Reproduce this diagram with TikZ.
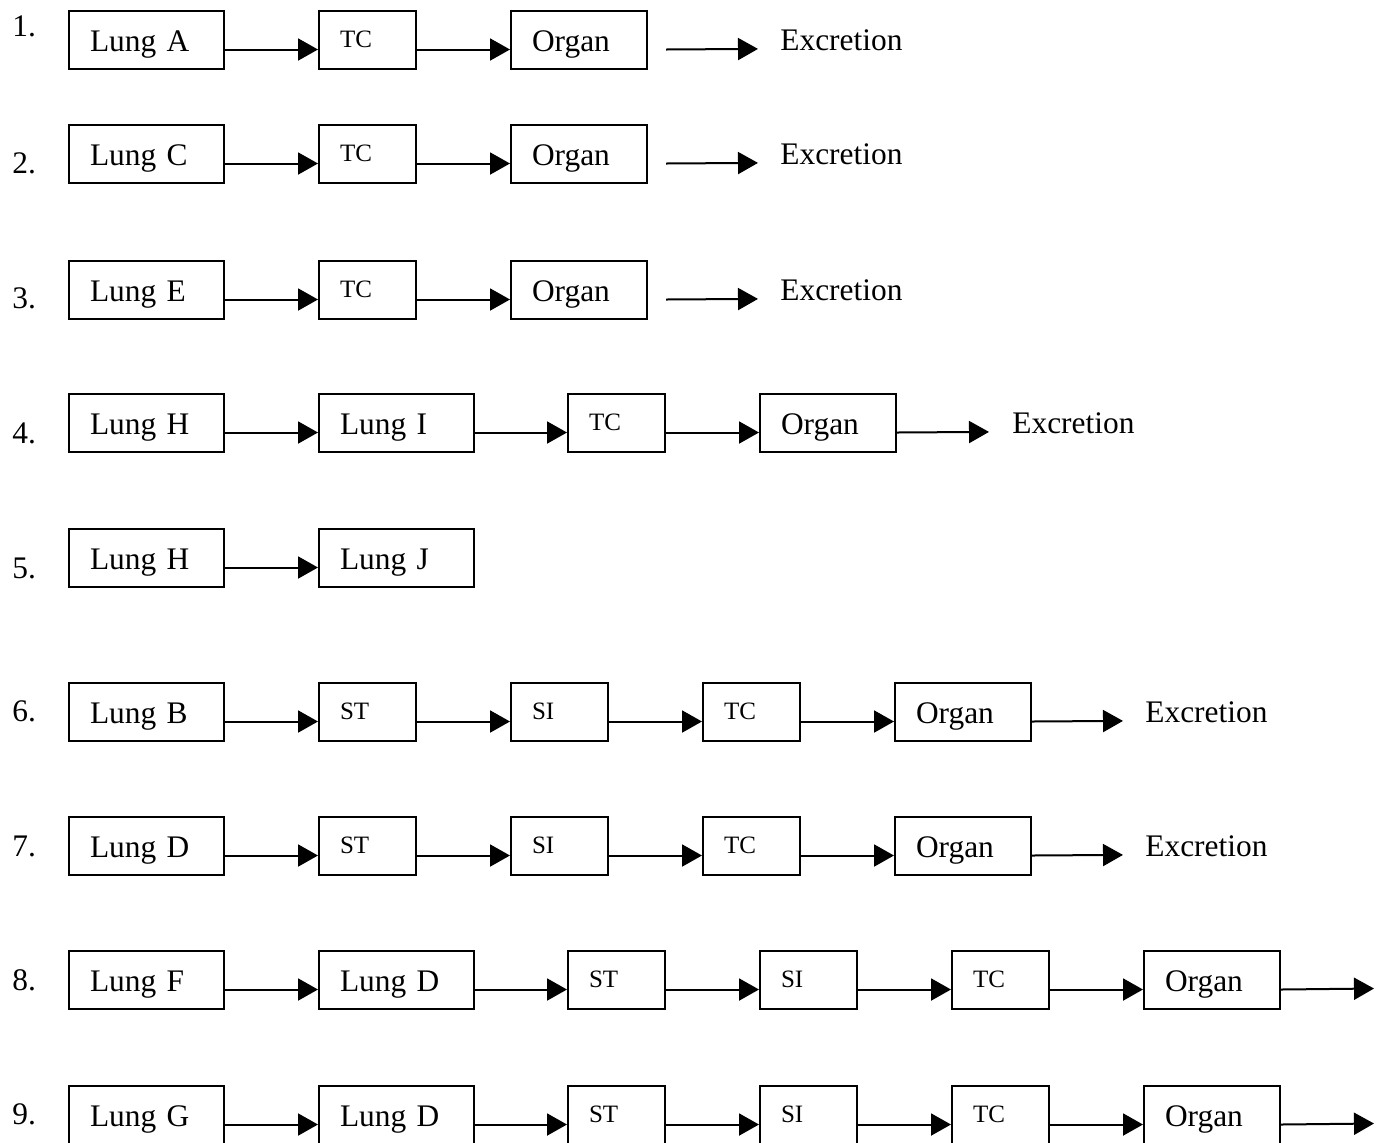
\documentclass[tikz,border=0pt]{standalone}
\usepackage{fontspec}
\setmainfont{Liberation Serif}
\usetikzlibrary{arrows.meta}
\tikzset{
  box/.style={draw,line width=1pt,anchor=north west,inner xsep=10.5pt,inner ysep=0pt,
    minimum height=29pt,align=left,text height=20pt,text depth=9pt,font=\fontsize{15.7}{18}\selectfont},
  lung/.style={box,text width=56.5pt},
  organ/.style={box,text width=47pt},
  small/.style={box,text width=27.5pt,text height=18pt,text depth=11pt,font=\fontsize{12.5}{15}\selectfont},
  endtxt/.style={anchor=north west,inner sep=0pt,text height=20pt,text depth=9pt,font=\fontsize{15.7}{18}\selectfont},
  num/.style={anchor=base west,inner sep=0pt,font=\fontsize{15.7}{18}\selectfont},
  arr/.style={->,line width=1pt}
}
\begin{document}
\begin{tikzpicture}[x=0.5pt,y=-0.5pt,>={Triangle[length=10pt,width=11pt]}]
\useasboundingbox (0,0) rectangle (1386,1142);
\node[num] at (12,36) {1.};
\node[lung] (lA) at (68,10) {Lung A};
\node[small] (tc1) at (318,10) {TC};
\node[organ] (og1) at (510,10) {Organ};
\node[endtxt] (ex1) at (780,10) {Excretion};
\node[num] at (12,173) {2.};
\node[lung] (lC) at (68,124) {Lung C};
\node[small] (tc2) at (318,124) {TC};
\node[organ] (og2) at (510,124) {Organ};
\node[endtxt] (ex2) at (780,124) {Excretion};
\node[num] at (12,308) {3.};
\node[lung] (lE) at (68,260) {Lung E};
\node[small] (tc3) at (318,260) {TC};
\node[organ] (og3) at (510,260) {Organ};
\node[endtxt] (ex3) at (780,260) {Excretion};
\foreach \a/\b in {lA/tc1,tc1/og1,lC/tc2,tc2/og2,lE/tc3,tc3/og3}
  \draw[arr] ([yshift=-4.75pt]\a.east) -- ([yshift=-4.75pt]\b.west);
\foreach \a/\b in {og1/ex1,og2/ex2,og3/ex3}
  \draw[arr] ([xshift=9pt,yshift=-4.75pt]\a.east) -- ([xshift=-11pt,yshift=-4.75pt]\b.west);

\node[num] at (12,443) {4.};
\node[lung] (lH4) at (68,393) {Lung H};
\node[lung] (lI) at (318,393) {Lung I};
\node[small] (tc4) at (567,393) {TC};
\node[organ] (og4) at (759,393) {Organ};
\node[endtxt] (ex4) at (1012,393) {Excretion};
\node[num] at (12,578) {5.};
\node[lung] (lH5) at (68,528) {Lung H};
\node[lung] (lJ) at (318,528) {Lung J};
\foreach \a/\b in {lH4/lI,lI/tc4,tc4/og4,lH5/lJ}
  \draw[arr] ([yshift=-4.75pt]\a.east) -- ([yshift=-4.75pt]\b.west);
\draw[arr] ([yshift=-4.75pt]og4.east) -- ([xshift=-11.5pt,yshift=-4.75pt]ex4.west);

\node[num] at (12,721) {6.};
\node[lung] (lB) at (68,682) {Lung B};
\node[small] (st6) at (318,682) {ST};
\node[small] (si6) at (510,682) {SI};
\node[small] (tc6) at (702,682) {TC};
\node[organ] (og6) at (894,682) {Organ};
\node[endtxt] (ex6) at (1145,682) {Excretion};
\node[num] at (12,856) {7.};
\node[lung] (lD7) at (68,816) {Lung D};
\node[small] (st7) at (318,816) {ST};
\node[small] (si7) at (510,816) {SI};
\node[small] (tc7) at (702,816) {TC};
\node[organ] (og7) at (894,816) {Organ};
\node[endtxt] (ex7) at (1145,816) {Excretion};
\foreach \a/\b in {lB/st6,st6/si6,si6/tc6,tc6/og6,lD7/st7,st7/si7,si7/tc7,tc7/og7}
  \draw[arr] ([yshift=-4.75pt]\a.east) -- ([yshift=-4.75pt]\b.west);
\foreach \a/\b in {og6/ex6,og7/ex7}
  \draw[arr] ([yshift=-4.75pt]\a.east) -- ([xshift=-11pt,yshift=-4.75pt]\b.west);

\node[num] at (12,990) {8.};
\node[lung] (lF) at (68,950) {Lung F};
\node[lung] (lD8) at (318,950) {Lung D};
\node[small] (st8) at (567,950) {ST};
\node[small] (si8) at (759,950) {SI};
\node[small] (tc8) at (951,950) {TC};
\node[organ] (og8) at (1143,950) {Organ};
\coordinate (out8) at (1374,988.5);
\node[num] at (12,1124) {9.};
\node[lung] (lG) at (68,1085) {Lung G};
\node[lung] (lD9) at (318,1085) {Lung D};
\node[small] (st9) at (567,1085) {ST};
\node[small] (si9) at (759,1085) {SI};
\node[small] (tc9) at (951,1085) {TC};
\node[organ] (og9) at (1143,1085) {Organ};
\coordinate (out9) at (1374,1123.5);
\foreach \a/\b in {lF/lD8,lD8/st8,st8/si8,si8/tc8,tc8/og8,lG/lD9,lD9/st9,st9/si9,si9/tc9,tc9/og9}
  \draw[arr] ([yshift=-4.75pt]\a.east) -- ([yshift=-4.75pt]\b.west);
\draw[arr] ([yshift=-4.75pt]og8.east) -- (out8);
\draw[arr] ([yshift=-4.75pt]og9.east) -- (out9);
\end{tikzpicture}
\end{document}
